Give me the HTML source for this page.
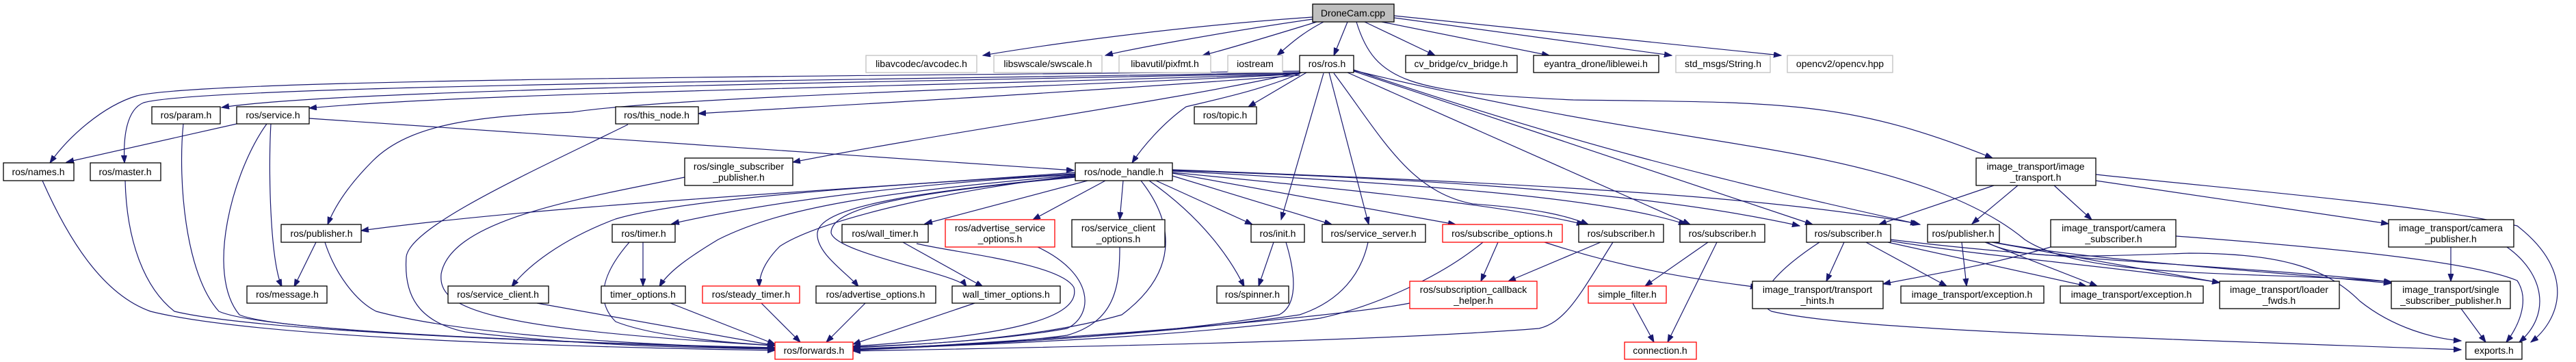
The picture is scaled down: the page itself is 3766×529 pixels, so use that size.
<!DOCTYPE html>
<html><head><meta charset="utf-8"><style>
html,body{margin:0;padding:0;background:#fff;}
svg{display:block;}
text{font-family:"Liberation Sans",sans-serif;font-size:14px;fill:#000;text-anchor:middle;}
.e{fill:none;stroke:#191970;stroke-width:1.2;marker-end:url(#a);}
.n{fill:#fff;stroke:#000;stroke-width:1.3;}
.g{fill:#fff;stroke:#bfbfbf;stroke-width:1.3;}
.r{fill:#fff;stroke:#ff0000;stroke-width:1.3;}
</style></head><body>
<svg width="3766" height="529" viewBox="0 0 3766 529" xmlns="http://www.w3.org/2000/svg">
<defs><marker id="a" markerUnits="userSpaceOnUse" markerWidth="12" markerHeight="9" refX="11" refY="4" orient="auto"><path d="M0,0 L11,4 L0,8 z" fill="#191970" stroke="#191970"/></marker></defs>
<g>
<!-- DroneCam -->
<path class="e" d="M1919,25 C1700,40 1500,70 1437,81"/>
<path class="e" d="M1919,28 C1800,45 1650,72 1616,81"/>
<path class="e" d="M1925,32 C1850,55 1790,73 1758,81"/>
<path class="e" d="M1935,32 C1900,50 1880,70 1867,81"/>
<path class="e" d="M1970,32 L1950,81"/>
<path class="e" d="M1995,32 L2098,81"/>
<path class="e" d="M2020,32 L2265,81"/>
<path class="e" d="M2038,26 L2444,81"/>
<path class="e" d="M2038,23 L2604,81"/>
<path class="e" d="M1983,32 C2010,120 2060,135 2300,146 C2600,150 2700,145 2913,231"/>
<!-- ros.h -->
<path class="e" d="M1900,104 C1200,112 300,115 200,140 C150,155 100,200 73,238"/>
<path class="e" d="M1900,106 C1200,118 300,125 210,150 C185,160 180,200 182,238"/>
<path class="e" d="M1900,107 C1300,120 500,130 324,157"/>
<path class="e" d="M1900,108 C1300,128 700,135 452,158"/>
<path class="e" d="M1900,110 C1500,140 1200,155 1021,166"/>
<path class="e" d="M1900,108 C1500,130 1000,140 836,164 C700,170 600,180 545,235 C510,270 490,300 479,328"/>
<path class="e" d="M1903,106 C1850,130 1780,145 1734,156 C1700,180 1670,215 1655,238"/>
<path class="e" d="M1910,106 L1825,156"/>
<path class="e" d="M1900,106 C1700,150 1400,190 1159,237"/>
<path class="e" d="M1935,107 L1873,321"/>
<path class="e" d="M1943,106 L2001,328"/>
<path class="e" d="M1950,107 C2020,200 2060,280 2153,298 C2250,305 2290,315 2322,328"/>
<path class="e" d="M1970,106 L2471,328"/>
<path class="e" d="M1979,104 L2650,328"/>
<path class="e" d="M1979,102 C2300,210 2500,260 2807,328"/>
<path class="e" d="M1979,103 C2300,180 2500,200 2650,230 C2800,260 2900,300 2960,350 C3050,410 3300,395 3496,412"/>
<!-- node_handle -->
<path class="e" d="M1572,252 C1200,280 800,300 528,337"/>
<path class="e" d="M1572,255 C1300,270 1100,300 982,327"/>
<path class="e" d="M1572,256 C1300,280 1150,300 1050,350 C1000,380 975,400 964,419"/>
<path class="e" d="M1572,254 C1300,270 1000,290 900,320 C820,350 770,390 748,419"/>
<path class="e" d="M1572,257 C1400,275 1200,320 1140,360 C1120,380 1110,400 1110,419"/>
<path class="e" d="M1572,258 C1350,280 1200,300 1195,340 C1192,370 1240,400 1255,419"/>
<path class="e" d="M1572,259 C1350,280 1215,300 1215,340 C1220,370 1400,400 1413,419"/>
<path class="e" d="M1590,264 L1352,327"/>
<path class="e" d="M1616,264 L1510,321"/>
<path class="e" d="M1642,264 L1637,321"/>
<path class="e" d="M1668,264 C1720,330 1720,400 1640,460 C1500,500 1300,505 1247,508"/>
<path class="e" d="M1680,264 C1760,320 1800,380 1819,419"/>
<path class="e" d="M1690,264 L1831,328"/>
<path class="e" d="M1714,257 L1947,328"/>
<path class="e" d="M1714,253 L2128,328"/>
<path class="e" d="M1714,252 C2000,280 2200,300 2316,328"/>
<path class="e" d="M1714,250 C2100,270 2350,290 2465,328"/>
<path class="e" d="M1714,249 C2200,265 2450,290 2631,330"/>
<path class="e" d="M1714,248 C2300,270 2600,290 2804,327"/>
<!-- service etc -->
<path class="e" d="M346,181 L97,237"/>
<path class="e" d="M396,181 C392,250 395,380 412,419"/>
<path class="e" d="M390,181 C340,250 300,400 350,460 C420,490 1000,505 1133,510"/>
<path class="e" d="M452,173 L1570,249"/>
<path class="e" d="M268,181 C260,260 270,400 320,455 C400,490 1000,505 1133,508"/>
<path class="e" d="M62,264 C100,350 150,430 220,455 C400,500 1000,510 1133,512"/>
<path class="e" d="M183,264 C185,350 210,420 255,455 C400,490 1000,505 1133,509"/>
<path class="e" d="M462,354 L430,419"/>
<path class="e" d="M475,354 C490,400 520,440 550,455 C700,495 1000,505 1133,510"/>
<path class="e" d="M918,182 C780,250 600,330 594,375 C590,430 610,470 680,485 C850,505 1000,508 1133,510"/>
<path class="e" d="M1001,259 C850,290 660,320 645,400 C640,450 700,480 1133,505"/>
<path class="e" d="M785,443 L1133,505"/>
<path class="e" d="M940,354 L940,418"/>
<path class="e" d="M920,354 C880,400 870,440 900,470 C950,490 1050,500 1133,505"/>
<path class="e" d="M980,443 L1133,503"/>
<path class="e" d="M1113,443 L1170,500"/>
<path class="e" d="M1265,443 L1208,500"/>
<path class="e" d="M1425,443 L1247,503"/>
<path class="e" d="M1320,354 L1437,419"/>
<path class="e" d="M1340,356 C1400,370 1550,385 1570,420 C1580,460 1500,490 1247,506"/>
<path class="e" d="M1517,361 C1600,400 1600,460 1560,480 C1450,500 1300,505 1247,507"/>
<path class="e" d="M1637,361 C1637,420 1630,470 1560,490 C1450,505 1300,507 1247,510"/>
<path class="e" d="M1862,354 L1840,418"/>
<path class="e" d="M1880,354 C1900,420 1890,450 1870,460 C1700,490 1400,505 1247,512"/>
<path class="e" d="M2000,354 C1990,400 1960,440 1900,460 C1700,490 1400,505 1247,510"/>
<path class="e" d="M2168,354 C2100,410 2000,450 1930,465 C1700,495 1400,505 1247,511"/>
<path class="e" d="M2358,354 C2310,430 2290,470 2250,480 C2000,500 1500,508 1247,513"/>
<path class="e" d="M2061,443 C1950,465 1500,500 1247,511"/>
<path class="e" d="M2190,354 L2165,411"/>
<path class="e" d="M2340,354 L2205,411"/>
<path class="e" d="M2258,354 C2400,400 2500,410 2570,420"/>
<path class="e" d="M2497,354 L2405,418"/>
<path class="e" d="M2510,354 L2438,500"/>
<path class="e" d="M2387,443 L2418,500"/>
<path class="e" d="M2696,354 L2670,411"/>
<path class="e" d="M2728,354 L2846,418"/>
<path class="e" d="M2760,354 L3050,418"/>
<path class="e" d="M2764,352 C2900,375 3100,390 3245,413"/>
<path class="e" d="M2764,350 C3000,380 3300,390 3496,412"/>
<path class="e" d="M2660,354 C2590,400 2560,440 2590,455 C2700,480 3000,490 3598,511"/>
<path class="e" d="M2868,354 L2875,418"/>
<path class="e" d="M2902,354 L3066,418"/>
<path class="e" d="M2912,354 L3245,413"/>
<path class="e" d="M2915,354 C3050,380 3300,395 3496,414"/>
<path class="e" d="M2905,354 C2950,380 3050,375 3200,370 C3330,370 3400,390 3450,440 C3500,480 3560,495 3598,498"/>
<path class="e" d="M2915,271 L2747,328"/>
<path class="e" d="M2950,271 L2883,327"/>
<path class="e" d="M3003,271 L3058,321"/>
<path class="e" d="M3064,264 L3492,327"/>
<path class="e" d="M3064,255 C3300,280 3550,300 3680,330 C3770,400 3740,470 3700,500"/>
<path class="e" d="M3181,345 C3450,365 3620,385 3680,410 C3700,440 3680,480 3664,500"/>
<path class="e" d="M2998,361 C2900,390 2800,405 2753,415"/>
<path class="e" d="M3583,361 L3583,411"/>
<path class="e" d="M3665,361 C3720,400 3730,460 3683,500"/>
<path class="e" d="M3598,451 L3634,500"/>
</g>
<g>
<rect x="1919" y="6" width="119" height="26" fill="#bfbfbf" stroke="#000" stroke-width="1.3"/><text x="1978" y="24">DroneCam.cpp</text>
<rect class="g" x="1266" y="81" width="162" height="25"/><text x="1347" y="98">libavcodec/avcodec.h</text>
<rect class="g" x="1453" y="81" width="158" height="25"/><text x="1532" y="98">libswscale/swscale.h</text>
<rect class="g" x="1636" y="81" width="134" height="25"/><text x="1703" y="98">libavutil/pixfmt.h</text>
<rect class="g" x="1795" y="81" width="80" height="25"/><text x="1835" y="98">iostream</text>
<rect class="n" x="1900" y="81" width="79" height="25"/><text x="1940" y="98">ros/ros.h</text>
<rect class="n" x="2055" y="81" width="163" height="25"/><text x="2136" y="98">cv_bridge/cv_bridge.h</text>
<rect class="n" x="2242" y="81" width="183" height="25"/><text x="2333" y="98">eyantra_drone/liblewei.h</text>
<rect class="g" x="2450" y="81" width="138" height="25"/><text x="2519" y="98">std_msgs/String.h</text>
<rect class="g" x="2613" y="81" width="154" height="25"/><text x="2690" y="98">opencv2/opencv.hpp</text>

<rect class="n" x="222" y="156" width="100" height="25"/><text x="272" y="173">ros/param.h</text>
<rect class="n" x="346" y="156" width="106" height="25"/><text x="399" y="173">ros/service.h</text>
<rect class="n" x="900" y="156" width="121" height="25"/><text x="960" y="173">ros/this_node.h</text>
<rect class="n" x="1746" y="156" width="91" height="25"/><text x="1791" y="173">ros/topic.h</text>

<rect class="n" x="5" y="238" width="103" height="26"/><text x="56" y="256">ros/names.h</text>
<rect class="n" x="132" y="238" width="103" height="26"/><text x="183" y="256">ros/master.h</text>
<rect class="n" x="1001" y="231" width="158" height="40"/><text x="1080" y="248">ros/single_subscriber</text><text x="1080" y="264">_publisher.h</text>
<rect class="n" x="1572" y="238" width="142" height="26"/><text x="1643" y="256">ros/node_handle.h</text>
<rect class="n" x="2889" y="231" width="175" height="40"/><text x="2976" y="248">image_transport/image</text><text x="2976" y="264">_transport.h</text>

<rect class="n" x="411" y="328" width="117" height="26"/><text x="470" y="346">ros/publisher.h</text>
<rect class="n" x="895" y="328" width="92" height="26"/><text x="941" y="346">ros/timer.h</text>
<rect class="n" x="1231" y="328" width="126" height="26"/><text x="1294" y="346">ros/wall_timer.h</text>
<rect class="r" x="1382" y="321" width="160" height="40"/><text x="1462" y="338">ros/advertise_service</text><text x="1462" y="354">_options.h</text>
<rect class="n" x="1567" y="321" width="136" height="40"/><text x="1635" y="338">ros/service_client</text><text x="1635" y="354">_options.h</text>
<rect class="n" x="1829" y="328" width="78" height="26"/><text x="1868" y="346">ros/init.h</text>
<rect class="n" x="1933" y="328" width="151" height="26"/><text x="2008" y="346">ros/service_server.h</text>
<rect class="r" x="2109" y="328" width="175" height="26"/><text x="2196" y="346">ros/subscribe_options.h</text>
<rect class="n" x="2308" y="328" width="124" height="26"/><text x="2370" y="346">ros/subscriber.h</text>
<rect class="n" x="2456" y="328" width="124" height="26"/><text x="2518" y="346">ros/subscriber.h</text>
<rect class="n" x="2641" y="328" width="123" height="26"/><text x="2702" y="346">ros/subscriber.h</text>
<rect class="n" x="2818" y="328" width="105" height="26"/><text x="2870" y="346">ros/publisher.h</text>
<rect class="n" x="2998" y="321" width="183" height="40"/><text x="3090" y="338">image_transport/camera</text><text x="3090" y="354">_subscriber.h</text>
<rect class="n" x="3492" y="321" width="183" height="40"/><text x="3583" y="338">image_transport/camera</text><text x="3583" y="354">_publisher.h</text>

<rect class="n" x="361" y="418" width="117" height="25"/><text x="420" y="435">ros/message.h</text>
<rect class="n" x="655" y="418" width="147" height="25"/><text x="728" y="435">ros/service_client.h</text>
<rect class="n" x="879" y="418" width="123" height="25"/><text x="940" y="435">timer_options.h</text>
<rect class="r" x="1027" y="418" width="142" height="25"/><text x="1098" y="435">ros/steady_timer.h</text>
<rect class="n" x="1193" y="418" width="175" height="25"/><text x="1280" y="435">ros/advertise_options.h</text>
<rect class="n" x="1392" y="418" width="158" height="25"/><text x="1471" y="435">wall_timer_options.h</text>
<rect class="n" x="1779" y="418" width="105" height="25"/><text x="1831" y="435">ros/spinner.h</text>
<rect class="r" x="2061" y="411" width="186" height="40"/><text x="2154" y="428">ros/subscription_callback</text><text x="2154" y="444">_helper.h</text>
<rect class="r" x="2322" y="418" width="114" height="25"/><text x="2379" y="435">simple_filter.h</text>
<rect class="n" x="2562" y="411" width="191" height="40"/><text x="2657" y="428">image_transport/transport</text><text x="2657" y="444">_hints.h</text>
<rect class="n" x="2779" y="418" width="209" height="25"/><text x="2883" y="435">image_transport/exception.h</text>
<rect class="n" x="3012" y="418" width="209" height="25"/><text x="3116" y="435">image_transport/exception.h</text>
<rect class="n" x="3245" y="411" width="175" height="40"/><text x="3332" y="428">image_transport/loader</text><text x="3332" y="444">_fwds.h</text>
<rect class="n" x="3496" y="411" width="174" height="40"/><text x="3583" y="428">image_transport/single</text><text x="3583" y="444">_subscriber_publisher.h</text>

<rect class="r" x="1133" y="500" width="114" height="25"/><text x="1190" y="517">ros/forwards.h</text>
<rect class="r" x="2375" y="500" width="105" height="25"/><text x="2427" y="517">connection.h</text>
<rect class="n" x="3605" y="500" width="82" height="25"/><text x="3646" y="517">exports.h</text>
</g>
</svg>
</body></html>
